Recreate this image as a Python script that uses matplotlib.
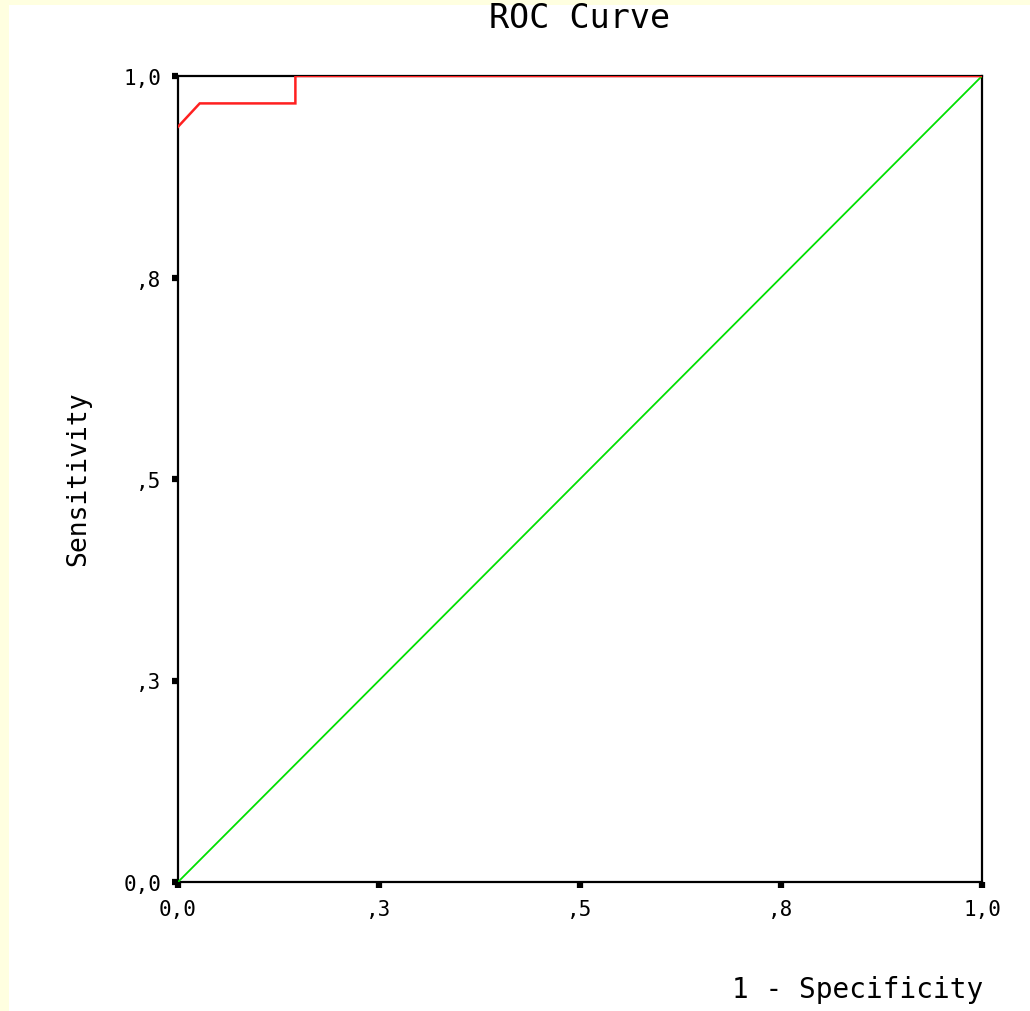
import matplotlib.pyplot as plt
from matplotlib.patches import Rectangle

# ROC curve
fpr = [0.0, 0.027, 0.146, 0.146, 1.0]
tpr = [0.937, 0.966, 0.966, 1.0, 1.0]
ref_x = [0.0, 1.0]
ref_y = [0.0, 1.0]

ticks = [0.0, 0.25, 0.5, 0.75, 1.0]
tick_labels = ['0,0', ',3', ',5', ',8', '1,0']

plt.rcParams['font.family'] = ['DejaVu Sans Mono']

fig = plt.figure(figsize=(10.30, 10.12), dpi=100, facecolor='#FFFFE0')
# white panel inside the yellow border
fig.patches.append(Rectangle((9 / 1030, 0), 1, 1 - 6 / 1012, transform=fig.transFigure,
                             facecolor='white', edgecolor='none', zorder=-5))

ax = fig.add_axes([178 / 1030, 1 - 883 / 1012, 804 / 1030, 806 / 1012])
ax.set_zorder(2)
ax.set_facecolor('white')

ax.plot(ref_x, ref_y, color='#00E000', lw=1.3, zorder=3)
ax.plot(fpr, tpr, color='#FF2020', lw=1.8, zorder=4, solid_joinstyle='miter')

ax.set_xlim(0, 1)
ax.set_ylim(0, 1)
for s in ax.spines.values():
    s.set_color('black')
    s.set_linewidth(1.6)

ax.set_xticks(ticks)
ax.set_xticklabels(tick_labels)
ax.set_yticks(ticks)
ax.set_yticklabels(tick_labels)
ax.tick_params(direction='out', length=4, width=4.5, color='black',
               labelsize=15, pad=8)

fig.text(580 / 1030, 1 - 18 / 1012, 'ROC Curve', ha='center', va='center', fontsize=24,
         zorder=5)
fig.text(983 / 1030, 1 - 990 / 1012, '1 - Specificity', ha='right', va='center', fontsize=20,
         zorder=5)
fig.text(78 / 1030, 1 - 479 / 1012, 'Sensitivity', ha='center', va='center',
         rotation=90, fontsize=19, zorder=5)

fig.savefig('out.png', dpi=100, facecolor=fig.get_facecolor())
